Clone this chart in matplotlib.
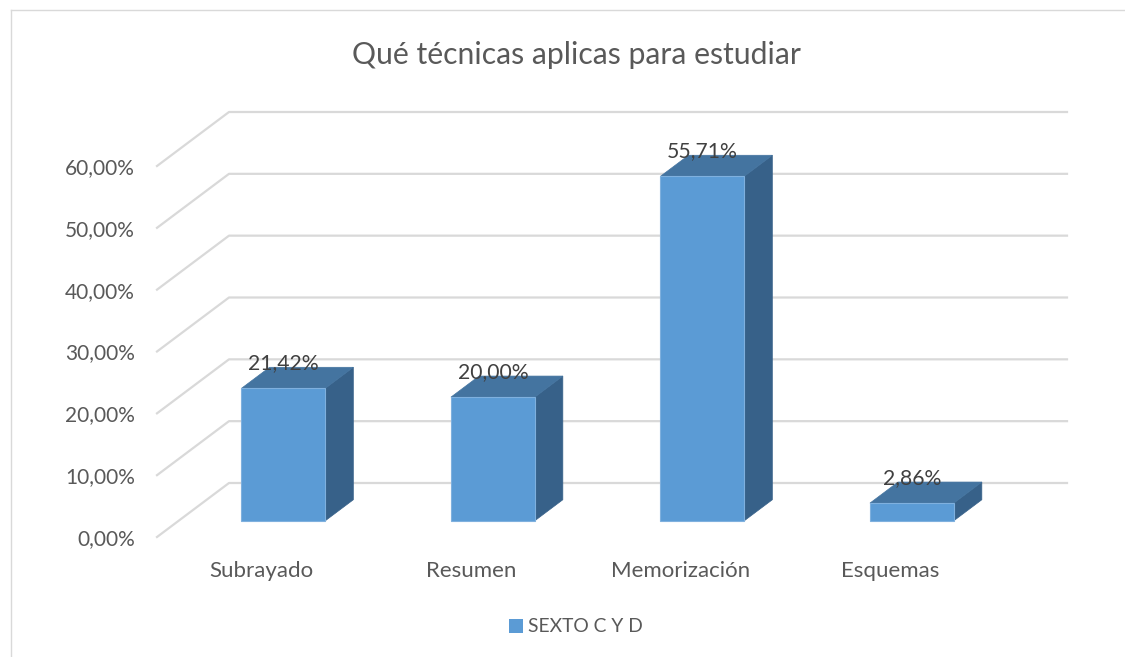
import matplotlib
matplotlib.use("Agg")
import matplotlib.pyplot as plt
from matplotlib.patches import Polygon, Rectangle
from matplotlib.lines import Line2D

plt.rcParams['font.family'] = ['Lato', 'DejaVu Sans']

# data
categorias = ['Subrayado', 'Resumen', 'Memorización', 'Esquemas']
valores = [21.42, 20.00, 55.71, 2.86]
etiquetas = ['21,42%', '20,00%', '55,71%', '2,86%']
serie = 'SEXTO C Y D'
titulo = 'Qué técnicas aplicas para estudiar'
yticks = [0, 10, 20, 30, 40, 50, 60]
ytick_labels = ['0,00%', '10,00%', '20,00%', '30,00%', '40,00%', '50,00%', '60,00%']

W, H = 1125, 657
fig = plt.figure(figsize=(W / 100, H / 100), dpi=100)
# axes = front plane of the 3D box
ax = fig.add_axes([157 / W, (H - 537) / H, (995 - 157) / W, (537 - 166) / H])
ax.set_xlim(-0.5, 3.5)
ax.set_ylim(0, 60)
for s in ax.spines.values():
    s.set_visible(False)

# depth of the box in data units
ddx, ddy = 72 / 209.5, 54 / 6.183
f0, f1 = 0.30, 0.69
grid_c = '#D9D9D9'

for y in yticks:
    ax.add_line(Line2D([-0.5, -0.5 + ddx, 3.5 + ddx], [y, y + ddy, y + ddy],
                       color=grid_c, lw=1.6, clip_on=False, zorder=1))

front_c, top_c, side_c = '#5B9BD5', '#4474A0', '#376189'
bw = 0.40
bx, by = (f1 - f0) * ddx, (f1 - f0) * ddy
for i, v in enumerate(valores):
    xl = i - bw / 2 + f0 * ddx
    xr = xl + bw
    yb = f0 * ddy
    yt = yb + v
    ax.add_patch(Polygon([(xr, yb), (xr, yt), (xr + bx, yt + by), (xr + bx, yb + by)],
                         closed=True, fc=side_c, ec=side_c, lw=0.5, clip_on=False, zorder=3))
    ax.add_patch(Polygon([(xl, yt), (xr, yt), (xr + bx, yt + by), (xl + bx, yt + by)],
                         closed=True, fc=top_c, ec=top_c, lw=0.5, clip_on=False, zorder=3))
    ax.add_patch(Rectangle((xl, yb), bw, v, fc=front_c, ec='#7FB0DE', lw=0.8,
                           clip_on=False, zorder=4))
    ax.annotate(etiquetas[i], xy=(xl + bw / 2, yt), xytext=(0, 18), textcoords='offset points',
                ha='center', va='center', fontsize=15.2, color='#404040', zorder=5,
                annotation_clip=False)

ax.set_yticks(yticks)
ax.set_yticklabels(ytick_labels)
ax.set_xticks(range(len(categorias)))
ax.set_xticklabels(categorias)
ax.tick_params(axis='y', length=0, pad=16, labelsize=15, labelcolor='#595959')
ax.tick_params(axis='x', length=0, pad=17, labelsize=16, labelcolor='#595959')

fig.text(576 / W, 1 - 55 / H, titulo, ha='center', va='center', fontsize=21.7, color='#595959')

# legend
fig.patches.append(Rectangle((509 / W, 1 - 633 / H), 14 / W, 14 / H, transform=fig.transFigure,
                             fc=front_c, ec='none'))
fig.text(528 / W, 1 - 626 / H, serie, ha='left', va='center', fontsize=13.9, color='#595959')

# chart border (partly outside the picture)
fig.add_artist(Line2D([11 / W, 11 / W], [0, 1 - 10 / H], transform=fig.transFigure, color=grid_c, lw=1))
fig.add_artist(Line2D([11 / W, 1], [1 - 10 / H, 1 - 10 / H], transform=fig.transFigure, color=grid_c, lw=1))

fig.savefig('out.png', dpi=100, facecolor='white')
